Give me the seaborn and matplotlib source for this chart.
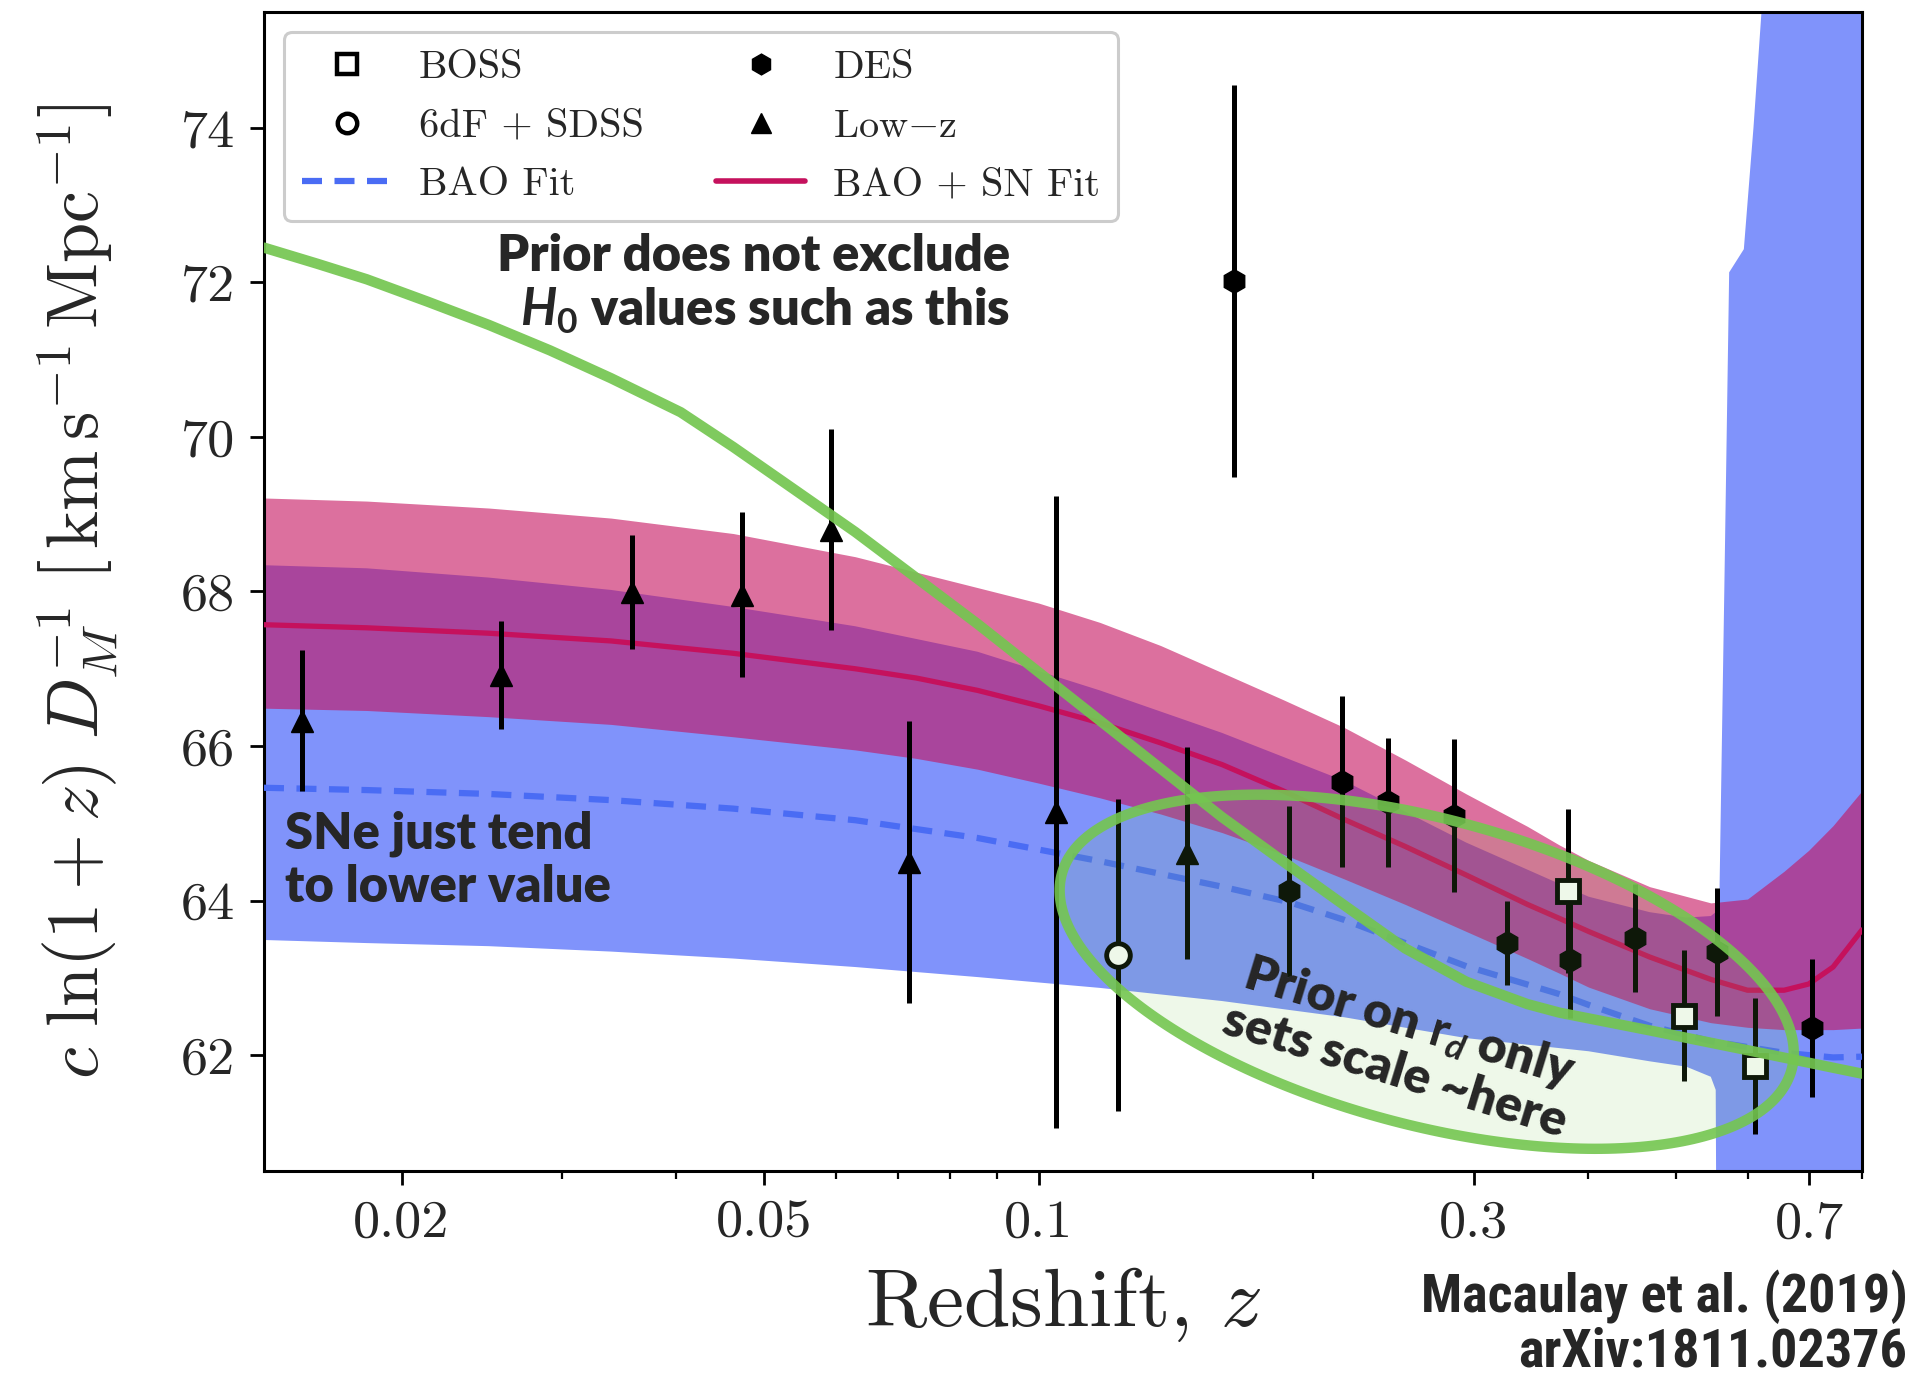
import numpy as np
import matplotlib
matplotlib.use("Agg")
import matplotlib.pyplot as plt
import seaborn as sns
from matplotlib.lines import Line2D
from matplotlib.patches import Polygon
from matplotlib.ticker import LogLocator, NullFormatter, FixedLocator, FixedFormatter
from matplotlib import font_manager

# ---------------- data ----------------
# Low-z SNe bins
lowz_z = [0.01555, 0.02571, 0.03578, 0.04722, 0.05917, 0.07210, 0.1044, 0.1453]
lowz_y = [66.33, 66.92, 67.99, 67.96, 68.80, 64.50, 65.15, 64.62]
lowz_e = [0.91, 0.70, 0.74, 1.07, 1.30, 1.83, 4.09, 1.37]

# DES SNe bins
des_z = [0.1638, 0.1883, 0.2150, 0.2416, 0.2856, 0.3262, 0.3829, 0.4510, 0.5546, 0.7057]
des_y = [72.02, 64.12, 65.54, 65.27, 65.10, 63.45, 63.23, 63.52, 63.33, 62.35]
des_e = [2.54, 1.11, 1.11, 0.83, 0.99, 0.54, 0.75, 0.70, 0.83, 0.89]

# BOSS BAO
boss_z = [0.3805, 0.5103, 0.6102]
boss_y = [64.12, 62.51, 61.86]
boss_e = [1.06, 0.85, 0.88]

# 6dF + SDSS BAO
sdss_z = [0.1222]
sdss_y = [63.30]
sdss_e = [2.02]

# BAO + SN fit: median line and band
fit_z = [0.01413, 0.01832, 0.02493, 0.03395, 0.04623, 0.06292, 0.07340, 0.08570,
         0.10000, 0.11670, 0.13610, 0.15889, 0.18540, 0.21634, 0.25243, 0.29449,
         0.34370, 0.37245, 0.40109, 0.46796, 0.54608, 0.59910, 0.65720, 0.69915,
         0.74365, 0.80000]
snfit_mid = [67.57, 67.53, 67.46, 67.36, 67.20, 67.00, 66.88, 66.72,
             66.52, 66.30, 66.04, 65.76, 65.42, 65.05, 64.70, 64.33,
             63.95, 63.77, 63.60, 63.27, 62.98, 62.84, 62.84, 62.92,
             63.14, 63.62]
snfit_hi = [69.21, 69.17, 69.08, 68.95, 68.75, 68.45, 68.25, 68.05,
            67.85, 67.60, 67.30, 66.95, 66.60, 66.24, 65.82, 65.38,
            64.96, 64.72, 64.52, 64.18, 63.97, 64.02, 64.38, 64.65,
            64.97, 65.42]
snfit_lo = [66.49, 66.46, 66.38, 66.28, 66.12, 65.95, 65.84, 65.70,
            65.52, 65.33, 65.12, 64.88, 64.60, 64.28, 63.95, 63.60,
            63.25, 63.06, 62.88, 62.60, 62.42, 62.36, 62.33, 62.33,
            62.33, 62.35]

# BAO-only fit line
bao_line_z = [0.01413, 0.01832, 0.02493, 0.03395, 0.04623, 0.06292, 0.08570, 0.11670,
              0.15889, 0.18828, 0.21634, 0.29449, 0.37245, 0.40109, 0.46796, 0.54608,
              0.65720, 0.74365, 0.80000]
bao_line_y = [65.46, 65.43, 65.38, 65.30, 65.19, 65.04, 64.81, 64.51,
              64.18, 63.98, 63.75, 63.15, 62.79, 62.65, 62.38, 62.18,
              62.03, 61.97, 61.98]

# BAO-only band (diverges near z ~ 0.56)
bao_band_z = [0.01413, 0.01832, 0.02493, 0.03395, 0.04623, 0.06292, 0.08570, 0.11670,
              0.15889, 0.21634, 0.29449, 0.40109, 0.46796, 0.51340, 0.54608, 0.5529,
              0.5546, 0.5580, 0.5650, 0.5720, 0.5936, 0.6082, 0.6215, 0.6411, 0.80000]
bao_band_hi = [68.34, 68.30, 68.18, 68.02, 67.80, 67.55, 67.22, 66.72,
               66.17, 65.55, 64.75, 64.05, 63.85, 63.78, 63.80, 63.85,
               63.90, 64.00, 68.00, 72.13, 72.43, 74.00, 75.60, 80.0, 80.0]
bao_band_lo = [63.49, 63.45, 63.41, 63.34, 63.25, 63.14, 63.01, 62.87,
               62.70, 62.49, 62.22, 62.05, 61.92, 61.85, 61.72, 61.55,
               58.00, 55.00, 55.00, 55.00, 55.00, 55.00, 55.00, 55.0, 55.0]

# "Prior" illustrative line
prior_z = [0.01413, 0.01618, 0.01832, 0.02137, 0.02493, 0.02910, 0.03395, 0.04048,
           0.04623, 0.06292, 0.08570, 0.11670, 0.15889, 0.18828, 0.21634, 0.25243,
           0.29449, 0.34370, 0.37245, 0.46796, 0.54608, 0.63710, 0.80000]
prior_y = [72.45, 72.24, 72.04, 71.75, 71.45, 71.12, 70.76, 70.32,
           69.87, 68.77, 67.58, 66.33, 65.08, 64.45, 63.94, 63.38,
           62.95, 62.66, 62.55, 62.32, 62.16, 62.00, 61.76]

xtick_vals = [0.02, 0.05, 0.1, 0.3, 0.7]
xtick_labels = ["0.02", "0.05", "0.1", "0.3", "0.7"]
ytick_vals = [62, 64, 66, 68, 70, 72, 74]

# ---------------- style ----------------
sns.set_theme(style="ticks")
names = {f.name for f in font_manager.fontManager.ttflist}


def pick(cands, default):
    for c in cands:
        if c in names:
            return c
    return default


annot_font = pick(["Lato", "Open Sans"], "DejaVu Sans")
credit_font = pick(["Liberation Sans Narrow", "Roboto Condensed", "Open Sans Condensed"], annot_font)

plt.rcParams.update({
    "font.family": ["cmr10"],
    "mathtext.fontset": "cm",
    "axes.formatter.use_mathtext": True,
    "axes.unicode_minus": False,
    "mathtext.rm": f"{annot_font}:bold",
    "mathtext.it": f"{annot_font}:italic:bold",
    "mathtext.bf": f"{annot_font}:bold",
    "axes.edgecolor": "black",
    "axes.linewidth": 2.2,
})

BLUE_BAND = "#8093FB"
BLUE_LINE = "#4A6CF4"
CRIMSON = "#C5115D"
GREEN = "#74C650"

fig = plt.figure(figsize=(19.17, 13.73), dpi=100)
ax = fig.add_axes([0.1377, 0.1471, 0.8336, 0.8442])

ax.fill_between(bao_band_z, bao_band_lo, bao_band_hi, color=BLUE_BAND, lw=0, zorder=1)
ax.fill_between(fit_z, snfit_lo, snfit_hi, color=CRIMSON, alpha=0.6, lw=0, zorder=2)

sns.lineplot(x=bao_line_z, y=bao_line_y, ax=ax, color=BLUE_LINE, lw=4.5,
             linestyle=(0, (3.2, 2.0)), zorder=3, sort=False)
sns.lineplot(x=fit_z, y=snfit_mid, ax=ax, color=CRIMSON, lw=3.8, zorder=3, sort=False)

eb = dict(ls="none", ecolor="black", elinewidth=3.6, capsize=0, zorder=4)
ax.errorbar(lowz_z, lowz_y, yerr=lowz_e, fmt="^", mfc="black", mec="black", ms=16, **eb)
ax.errorbar(des_z, des_y, yerr=des_e, fmt="h", mfc="black", mec="black", ms=17, **eb)
ax.errorbar(boss_z, boss_y, yerr=boss_e, fmt="s", mfc="white", mec="black", ms=16, mew=3.5, **eb)
ax.errorbar(sdss_z, sdss_y, yerr=sdss_e, fmt="o", mfc="white", mec="black", ms=17, mew=3.5, **eb)

sns.lineplot(x=prior_z, y=prior_y, ax=ax, color=GREEN, lw=7.5, alpha=0.92, zorder=5, sort=False)

ax.set_xscale("log")
ax.set_xlim(0.01413, 0.8)
ax.set_ylim(60.5, 75.5)
ax.xaxis.set_major_locator(FixedLocator(xtick_vals))
ax.xaxis.set_major_formatter(FixedFormatter(xtick_labels))
ax.xaxis.set_minor_locator(LogLocator(base=10, subs=np.arange(2, 10) * 1.0, numticks=30))
ax.xaxis.set_minor_formatter(NullFormatter())
ax.set_yticks(ytick_vals)
ax.set_yticklabels([str(v) for v in ytick_vals])
ax.tick_params(axis="both", which="major", length=10, width=2, labelsize=39, pad=11,
               direction="out", color="black")
ax.tick_params(axis="x", which="minor", length=5.5, width=1.6, direction="out", color="black")
for s in ax.spines.values():
    s.set_visible(True)
    s.set_linewidth(2.2)
    s.set_color("black")

ax.set_xlabel(r"Redshift, $z$", fontsize=60)
ax.set_ylabel(r"$c\ \ln(1+z)\ D_M^{-1}\ \left[\,\mathrm{km\,s}^{-1}\,\mathrm{Mpc}^{-1}\right]$",
              fontsize=52)
ax.xaxis.set_label_coords(0.5, -0.082)
ax.yaxis.set_label_coords(-0.09, 0.5)
ax.xaxis.label.set_verticalalignment("top")


# ---- annotation geometry (shown-pixel -> axes fraction) ----
def afrac(px, py):
    return (px - 216.0) / 1307.0, (958.0 - py) / 948.0


t = np.linspace(0, 2 * np.pi, 300)
th = np.deg2rad(15)
ex = 1167 + 309 * np.cos(t) * np.cos(th) - 125 * np.sin(t) * np.sin(th)
ey = 795 + 309 * np.cos(t) * np.sin(th) + 125 * np.sin(t) * np.cos(th)
fx, fy = afrac(ex, ey)
pts = np.column_stack([fx, fy])
ax.add_patch(Polygon(pts, closed=True, transform=ax.transAxes, facecolor=GREEN,
                     alpha=0.12, edgecolor="none", zorder=6))
ax.add_patch(Polygon(pts, closed=True, transform=ax.transAxes, fill=False,
                     edgecolor=GREEN, alpha=0.9, lw=7.5, zorder=6))

WEIGHT = "heavy"
tx, ty = afrac(826, 233)
ax.text(tx, ty, "Prior does not exclude\n$H_0$ values such as this", transform=ax.transAxes,
        ha="right", va="center", multialignment="right", fontsize=36.5, fontweight=WEIGHT,
        family=annot_font, math_fontfamily="custom", linespacing=1.17, zorder=7)
tx, ty = afrac(233, 704)
ax.text(tx, ty, "SNe just tend\nto lower value", transform=ax.transAxes,
        ha="left", va="center", multialignment="left", fontsize=36.5, fontweight=WEIGHT,
        family=annot_font, linespacing=1.17, zorder=7)
tx, ty = afrac(1147, 856)
ax.text(tx, ty, "Prior on $\\mathrm{r}_{d}$ only\nsets scale ~here", transform=ax.transAxes,
        ha="center", va="center", multialignment="center", fontsize=36, fontweight=WEIGHT,
        family=annot_font, math_fontfamily="custom", rotation=-17, rotation_mode="anchor",
        linespacing=1.1, zorder=7, clip_on=False)

fig.text(0.995, 0.036, "Macaulay et al. (2019)\narXiv:1811.02376", ha="right", va="center",
         multialignment="right", fontsize=39, fontweight="bold", family=credit_font,
         linespacing=1.06)

handles = [
    Line2D([], [], ls="none", marker="s", ms=14, mfc="white", mec="black", mew=3.2),
    Line2D([], [], ls="none", marker="o", ms=14, mfc="white", mec="black", mew=3.2),
    Line2D([], [], color=BLUE_LINE, lw=4.5, linestyle=(0, (3.2, 2.0))),
    Line2D([], [], ls="none", marker="h", ms=15, mfc="black", mec="black"),
    Line2D([], [], ls="none", marker="^", ms=15, mfc="black", mec="black"),
    Line2D([], [], color=CRIMSON, lw=4),
]
labels = ["BOSS", "6dF + SDSS", "BAO Fit", "DES", "Low$-$z", "BAO + SN Fit"]
leg = ax.legend(handles, labels, loc="upper left", ncol=2, fontsize=29, frameon=True,
                fancybox=True, framealpha=1, edgecolor="#cccccc", handlelength=2.2,
                handletextpad=0.7, columnspacing=1.8, labelspacing=0.55, borderpad=0.45,
                borderaxespad=0.5)
leg.get_frame().set_linewidth(2.2)
leg.set_zorder(10)

fig.savefig("out.png", dpi=100)
